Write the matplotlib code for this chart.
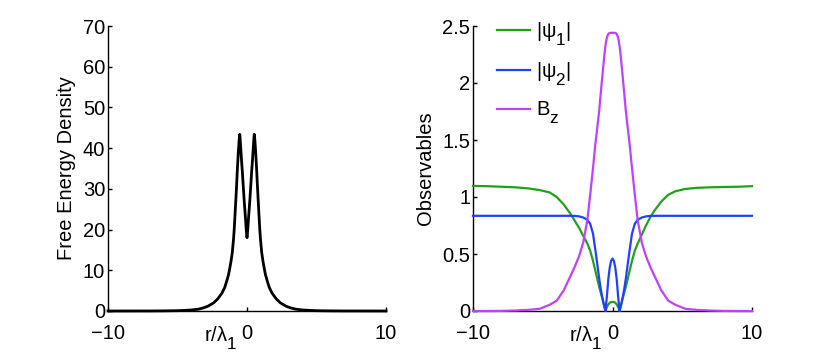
import matplotlib
matplotlib.use("Agg")
import matplotlib.pyplot as plt

try:
    import matplotlib._mathtext as _mt
    _mt.SHRINK_FACTOR = 0.85
    _mt.FontConstantsBase.sub1 = 0.8
    _mt.FontConstantsBase.sub2 = 0.9
except Exception:
    pass

plt.rcParams['font.family'] = ['Liberation Sans', 'DejaVu Sans']
plt.rcParams['mathtext.fontset'] = 'custom'
plt.rcParams['mathtext.rm'] = 'Liberation Sans'
plt.rcParams['mathtext.it'] = 'Liberation Sans'
plt.rcParams['mathtext.bf'] = 'Liberation Sans:bold'

# ---------------- data ----------------
# Left panel: free energy density vs r/lambda_1
x_fe = [-10, -7, -6, -5, -4.5, -4, -3.5, -3.1, -2.8, -2.4, -2.1, -1.8, -1.6,
        -1.43, -1.33, -1.25, -1.15, -1.06, -0.97, -0.92, -0.88, -0.8, -0.75,
        -0.69, -0.63, -0.58, -0.54, -0.52, -0.5, -0.45, -0.4, -0.33, -0.27,
        -0.2, -0.11, -0.05, 0,
        0.05, 0.11, 0.2, 0.27, 0.33, 0.4, 0.45, 0.5, 0.52, 0.54, 0.58, 0.63,
        0.69, 0.75, 0.8, 0.88, 0.92, 0.97, 1.06, 1.15, 1.25, 1.33, 1.43, 1.6,
        1.8, 2.1, 2.4, 2.8, 3.1, 3.5, 4, 4.5, 5, 6, 7, 10]
fe = [0, 0.01, 0.03, 0.08, 0.15, 0.25, 0.45, 0.8, 1.2, 2.0, 3.0, 4.4, 5.8,
      7.7, 8.9, 10.3, 12.2, 14.3, 17.6, 20.0, 22.5, 27.5, 30.7,
      35.0, 38.7, 41.3, 43.0, 43.4, 42.6, 40.0, 37.3, 34.0, 30.7,
      27.0, 22.8, 19.8, 18.0,
      19.8, 22.8, 27.0, 30.7, 34.0, 37.3, 40.0, 42.6, 43.4, 43.0, 41.3, 38.7,
      35.0, 30.7, 27.5, 22.5, 20.0, 17.6, 14.3, 12.2, 10.3, 8.9, 7.7, 5.8,
      4.4, 3.0, 2.0, 1.2, 0.8, 0.45, 0.25, 0.15, 0.08, 0.03, 0.01, 0]

# Right panel: observables vs r/lambda_1
x_obs = [-10, -9, -8, -7, -6, -5.2, -4.5, -4, -3.5, -3, -2.7, -2.4, -2.1,
         -1.8, -1.6, -1.4, -1.24, -1.1, -0.95, -0.85, -0.75, -0.65, -0.57,
         -0.5, -0.45, -0.4, -0.3, -0.2, -0.1, 0,
         0.1, 0.2, 0.3, 0.4, 0.45, 0.5, 0.57, 0.65, 0.75, 0.85, 0.95, 1.1,
         1.24, 1.4, 1.6, 1.8, 2.1, 2.4, 2.7, 3, 3.5, 4, 4.5, 5.2, 6, 7, 8,
         9, 10]
psi1 = [1.097, 1.095, 1.09, 1.085, 1.075, 1.06, 1.04, 1.0, 0.935, 0.85,
        0.79, 0.73, 0.66, 0.59, 0.53, 0.44, 0.36, 0.285, 0.21, 0.165, 0.12,
        0.075, 0.035, 0.0, 0.02, 0.035, 0.058, 0.072, 0.079, 0.08,
        0.079, 0.072, 0.058, 0.035, 0.02, 0.0, 0.035, 0.075, 0.12, 0.165,
        0.21, 0.285, 0.36, 0.44, 0.53, 0.59, 0.67, 0.75, 0.82, 0.88, 0.96,
        1.02, 1.05, 1.07, 1.08, 1.085, 1.088, 1.09, 1.095]
psi2 = [0.835, 0.835, 0.835, 0.835, 0.835, 0.835, 0.835, 0.835, 0.835,
        0.835, 0.834, 0.83, 0.82, 0.80, 0.765, 0.68, 0.545, 0.42, 0.28,
        0.2, 0.13, 0.07, 0.03, 0.0, 0.07, 0.13, 0.28, 0.38, 0.44, 0.46,
        0.44, 0.38, 0.28, 0.13, 0.07, 0.0, 0.03, 0.07, 0.13, 0.2, 0.28,
        0.42, 0.545, 0.68, 0.765, 0.80, 0.82, 0.83, 0.834, 0.835, 0.835,
        0.835, 0.835, 0.835, 0.835, 0.835, 0.835, 0.835, 0.835]
bz = [0.0, 0.0, 0.001, 0.004, 0.01, 0.02, 0.055, 0.09, 0.18, 0.31, 0.39,
      0.48, 0.6, 0.8, 1.02, 1.25, 1.45, 1.6, 1.76, 1.9, 2.03, 2.16, 2.26,
      2.33, 2.37, 2.40, 2.43, 2.44, 2.44, 2.44,
      2.44, 2.44, 2.43, 2.40, 2.37, 2.33, 2.26, 2.16, 2.03, 1.9, 1.76, 1.6,
      1.45, 1.25, 1.02, 0.8, 0.6, 0.48, 0.39, 0.31, 0.18, 0.09, 0.055,
      0.02, 0.01, 0.004, 0.001, 0.0, 0.0]

series_labels = [r'$|\psi_1|$', r'$|\psi_2|$', r'$B_z$']
series_colors = ['#22a01a', '#2040ff', '#c040ff']

left_yticks = [0, 10, 20, 30, 40, 50, 60, 70]
right_yticks = [0, 0.5, 1, 1.5, 2, 2.5]
right_yticklabels = ['0', '0.5', '1', '1.5', '2', '2.5']
xticks = [-10, 0, 10]
x_label = r'r/$\lambda_1$'

# ---------------- figure ----------------
FS = 14.5
PAD = 9.5
fig = plt.figure(figsize=(8.3, 3.52), dpi=100)
axL = fig.add_axes([108 / 830, 41 / 352, 278 / 830, 285 / 352])
axR = fig.add_axes([473 / 830, 41 / 352, 279 / 830, 285 / 352])

axL.plot(x_fe, fe, color='black', lw=2.0, clip_on=False, zorder=3)
axL.set_xlim(-10, 10)
axL.set_ylim(0, 70)
axL.set_yticks(left_yticks)
axL.set_ylabel('Free Energy Density', fontsize=FS, labelpad=5)

for y, lab, col in zip([psi1, psi2, bz], series_labels, series_colors):
    axR.plot(x_obs, y, color=col, lw=1.6, label=lab, clip_on=False, zorder=3)
axR.set_xlim(-10, 10)
axR.set_ylim(0, 2.5)
axR.set_yticks(right_yticks)
axR.set_yticklabels(right_yticklabels)
axR.set_ylabel('Observables', fontsize=FS, labelpad=5)
leg = axR.legend(loc='upper left', bbox_to_anchor=(0.02, 1.085), frameon=False,
                 fontsize=FS, handlelength=1.65, handletextpad=0.3,
                 labelspacing=0.6, borderaxespad=0.5)

for ax in (axL, axR):
    ax.set_xticks(xticks)
    for s in ('top', 'right'):
        ax.spines[s].set_visible(False)
    for s in ('left', 'bottom'):
        ax.spines[s].set_linewidth(1.0)
    ax.tick_params(direction='in', length=3, width=1, labelsize=FS)
    ax.tick_params(axis='x', pad=PAD)
    ax.tick_params(axis='y', pad=2)
    ax.annotate(x_label, xy=(-0.75, 0), xycoords=('data', 'axes fraction'),
                xytext=(0, -PAD), textcoords='offset points',
                ha='right', va='top', fontsize=FS)

fig.savefig('out.png', dpi=100)
